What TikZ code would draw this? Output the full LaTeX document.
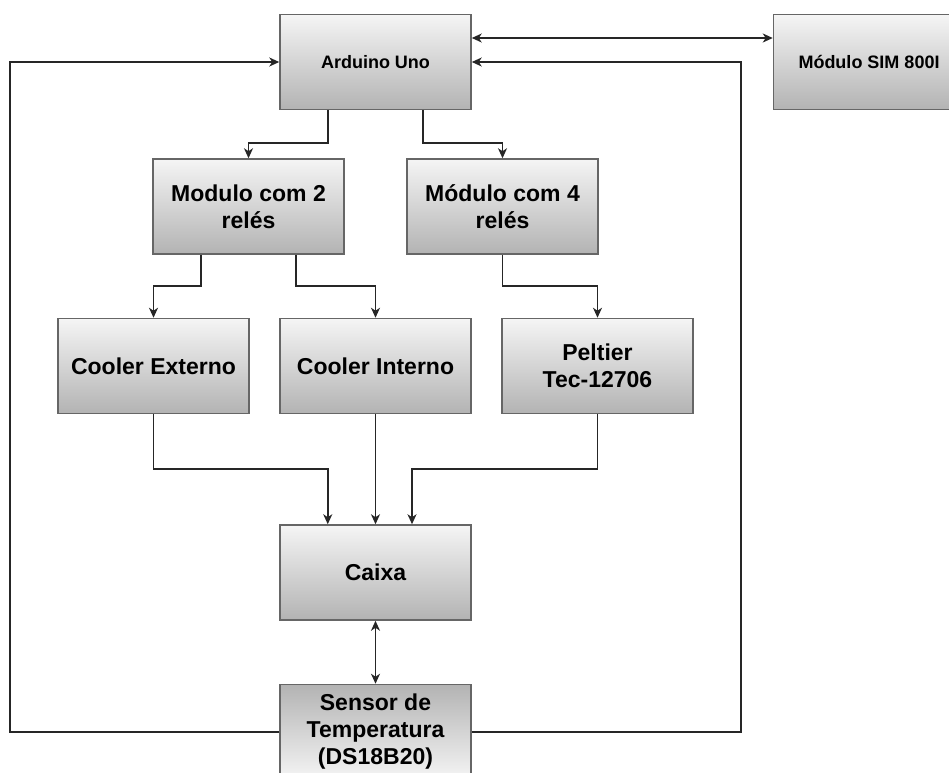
\documentclass[tikz,border=0pt]{standalone}
\usepackage{fontspec}
\setmainfont{Liberation Sans}
\usetikzlibrary{arrows.meta,positioning}
\definecolor{blight}{HTML}{F5F5F5}
\definecolor{bdark}{HTML}{B3B3B3}
\definecolor{bedge}{HTML}{666666}

\begin{document}
\begin{tikzpicture}[
  x=1pt,y=1pt,
  box/.style={draw=bedge,line width=1.5pt,top color=blight,bottom color=bdark,
              minimum width=191pt,minimum height=95pt,inner sep=2pt,align=center,
              font=\bfseries\fontsize{23}{27}\selectfont},
  smalltxt/.style={font=\bfseries\fontsize{18}{21}\selectfont},
  upshade/.style={top color=bdark,bottom color=blight},
  a/.style={-{Stealth[length=10pt,width=9pt,inset=3pt]},line width=1.7pt,draw=black!85},
  aa/.style={{Stealth[length=10pt,width=9pt,inset=3pt]}-{Stealth[length=10pt,width=9pt,inset=3pt]},
             line width=1.7pt,draw=black!85}
]
\clip (0,0) rectangle (949,-772);
\node[box,smalltxt] (ard) at (375.5,-62) {Arduino Uno};
\node[box,smalltxt,right=301pt of ard] (sim) {Módulo SIM 800I};
\node[box,below=48pt of ard,xshift=-127pt] (mod2) {Modulo com 2\\relés};
\node[box,below=48pt of ard,xshift=127pt] (mod4) {Módulo com 4\\relés};
\node[box,below=63pt of mod2,xshift=-95pt] (cext) {Cooler Externo};
\node[box,below=63pt of mod2,xshift=127pt] (cint) {Cooler Interno};
\node[box,below=63pt of mod4,xshift=95pt] (pelt) {Peltier\\Tec-12706};
\node[box,below=110pt of cint] (caixa) {Caixa};
\node[box,upshade,below=63pt of caixa] (sens) {Sensor de\\Temperatura\\(DS18B20)};
% arduino links
\draw[aa] ([yshift=24pt]ard.east) -- ([yshift=24pt]sim.west);
\draw[a] ([xshift=-47.75pt]ard.south) -- ++(0,-33) -| (mod2.north);
\draw[a] ([xshift=47.75pt]ard.south) -- ++(0,-33) -| (mod4.north);
% relays to loads
\draw[a] ([xshift=-47.75pt]mod2.south) -- ++(0,-31) -| (cext.north);
\draw[a] ([xshift=47.75pt]mod2.south) -- ++(0,-31) -| (cint.north);
\draw[a] (mod4.south) -- ++(0,-31) -| (pelt.north);
% loads to box
\draw[a] (cext.south) -- ++(0,-55) -| ([xshift=-47.75pt]caixa.north);
\draw[a] (cint.south) -- (caixa.north);
\draw[a] (pelt.south) -- ++(0,-55) -| ([xshift=36.5pt]caixa.north);
\draw[aa] (caixa.south) -- (sens.north);
% sensor feedback
\draw[a] (sens.west) -- ++(-269,0) |- (ard.west);
\draw[a] (sens.east) -- ++(269,0) |- (ard.east);
\end{tikzpicture}
\end{document}
